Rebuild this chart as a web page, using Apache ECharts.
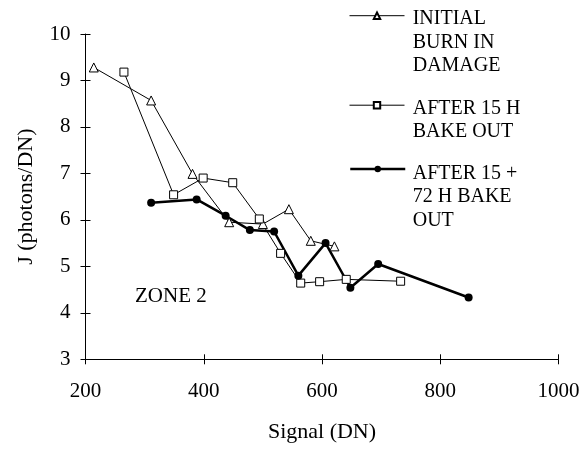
<!DOCTYPE html>
<html>
<head>
<meta charset="utf-8">
<script src="https://cdn.jsdelivr.net/npm/echarts@6/dist/echarts.min.js"></script>
<style>
  html, body { margin: 0; padding: 0; background: #fff; }
  #chart { width: 584px; height: 449px; }
</style>
</head>
<body>
<div id="chart"></div>
<script>
// ---- data ----
var seriesNames = ['INITIAL BURN IN DAMAGE', 'AFTER 15 H BAKE OUT', 'AFTER 15 + 72 H BAKE OUT'];
var legendLines = [['INITIAL', 'BURN IN', 'DAMAGE'], ['AFTER 15 H', 'BAKE OUT'], ['AFTER 15 +', '72 H BAKE', 'OUT']];
var initialBurnIn = [[214, 9.28], [311, 8.57], [381, 6.99], [443, 5.95], [500, 5.91], [544, 6.23], [581, 5.55], [621, 5.43]];
var after15h = [[265, 9.18], [349, 6.54], [399, 6.90], [449, 6.80], [494, 6.02], [530, 5.28], [564, 4.64], [596, 4.67], [641, 4.72], [733, 4.68]];
var after15p72h = [[311, 6.37], [388, 6.44], [437, 6.09], [478, 5.78], [519, 5.75], [560, 4.80], [606, 5.50], [648, 4.54], [695, 5.05], [848, 4.33]];
var xTicks = [200, 400, 600, 800, 1000];
var yTicks = [3, 4, 5, 6, 7, 8, 9, 10];
var xTitle = 'Signal (DN)';
var yTitle = 'J (photons/DN)';
var zoneLabel = 'ZONE 2';

var FONT = "'Liberation Serif', 'Times New Roman', serif";
var chart = echarts.init(document.getElementById('chart'), null, { renderer: 'canvas' });

function baseX(extra) {
  return Object.assign({
    type: 'value', min: xTicks[0], max: xTicks[xTicks.length - 1], interval: 200,
    splitLine: { show: false }
  }, extra);
}
function baseY(extra) {
  return Object.assign({
    type: 'value', min: yTicks[0], max: yTicks[yTicks.length - 1], interval: 1,
    splitLine: { show: false }
  }, extra);
}

var legendTops = [11.5, 101, 165];
var legendLineWidths = [1, 1, 2.5];
var textTops = [7, 96.5, 161.5];

var option = {
  backgroundColor: '#fff',
  animation: false,
  grid: { left: 85.5, right: 25.5, top: 34, bottom: 89.7, containLabel: false },
  xAxis: [
    baseX({
      name: xTitle, nameLocation: 'middle', nameGap: 62,
      nameTextStyle: { fontFamily: FONT, fontSize: 22, color: '#000' },
      axisLine: { lineStyle: { color: '#000', width: 1 } },
      axisTick: { length: 5, lineStyle: { color: '#000' } },
      axisLabel: { fontFamily: FONT, fontSize: 21, color: '#000', margin: 22,
        formatter: function (v) { return String(v); } }
    }),
    baseX({
      position: 'bottom',
      axisLine: { show: false },
      axisTick: { inside: true, length: 5, lineStyle: { color: '#000' } },
      axisLabel: { show: false }
    })
  ],
  yAxis: [
    baseY({
      name: yTitle, nameLocation: 'middle', nameGap: 48,
      nameTextStyle: { fontFamily: FONT, fontSize: 22, color: '#000' },
      axisLine: { lineStyle: { color: '#000', width: 1 } },
      axisTick: { length: 5, lineStyle: { color: '#000' } },
      axisLabel: { fontFamily: FONT, fontSize: 21, color: '#000', margin: 15,
        formatter: function (v) { return String(v); } }
    }),
    baseY({
      position: 'left',
      axisLine: { show: false },
      axisTick: { inside: true, length: 5, lineStyle: { color: '#000' } },
      axisLabel: { show: false }
    })
  ],
  legend: seriesNames.map(function (n, i) {
    return {
      data: [n], left: 349, top: legendTops[i], padding: 0,
      itemWidth: 55, itemHeight: 8,
      lineStyle: { width: legendLineWidths[i], color: '#000' },
      formatter: function () { return ''; },
      selectedMode: false
    };
  }),
  graphic: legendLines.map(function (lines, i) {
    return {
      type: 'text', left: 412.7, top: textTops[i],
      style: { text: lines.join('\n'), font: '20px ' + FONT, fill: '#000', lineHeight: 23.5 }
    };
  }).concat([{
    type: 'text', left: 135, top: 286,
    style: { text: zoneLabel, font: '21px ' + FONT, fill: '#000' }
  }]),
  series: [
    {
      name: seriesNames[0], type: 'line', data: initialBurnIn,
      symbol: 'triangle', symbolSize: 9,
      lineStyle: { color: '#000', width: 1 },
      itemStyle: { color: '#fff', borderColor: '#000', borderWidth: 1 }
    },
    {
      name: seriesNames[1], type: 'line', data: after15h,
      symbol: 'rect', symbolSize: 8,
      lineStyle: { color: '#000', width: 1 },
      itemStyle: { color: '#fff', borderColor: '#000', borderWidth: 1 }
    },
    {
      name: seriesNames[2], type: 'line', data: after15p72h,
      symbol: 'circle', symbolSize: 8,
      lineStyle: { color: '#000', width: 2.5 },
      itemStyle: { color: '#000', borderColor: '#000', borderWidth: 0 }
    }
  ]
};
chart.setOption(option);
</script>
</body>
</html>
